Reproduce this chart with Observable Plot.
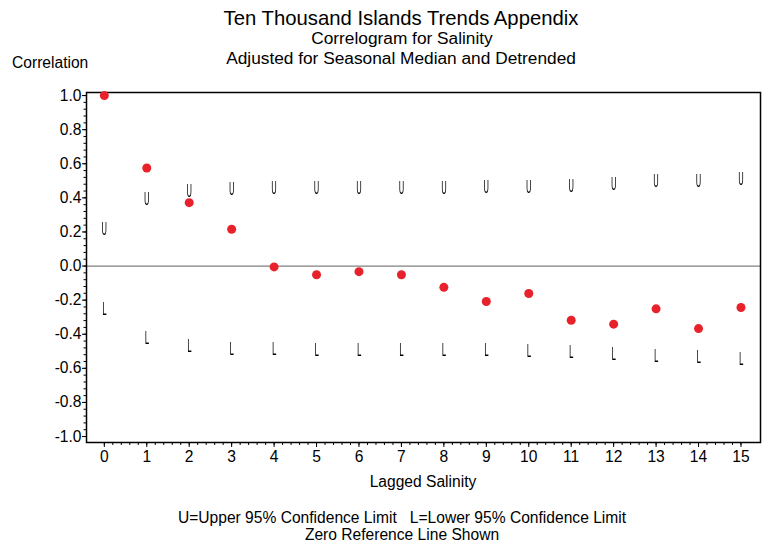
<!DOCTYPE html>
<html>
<head>
<meta charset="utf-8">
<script src="https://cdn.jsdelivr.net/npm/d3@7"></script>
<script src="https://cdn.jsdelivr.net/npm/@observablehq/plot@0.6"></script>
<style>
  body { margin: 0; background: #fff; font-family: "Liberation Sans", Arial, sans-serif; }
  #wrap { position: relative; width: 769px; height: 546px; }
  .t { position: absolute; color: #000; white-space: nowrap; line-height: 1; }
  .c { transform: translateX(-50%); }
</style>
</head>
<body>
<div id="wrap">
  <div class="t c" style="left:401px; top:8px; font-size:20.3px;">Ten Thousand Islands Trends Appendix</div>
  <div class="t c" style="left:402px; top:30px; font-size:17.3px;">Correlogram for Salinity</div>
  <div class="t c" style="left:401px; top:50px; font-size:17.3px;">Adjusted for Seasonal Median and Detrended</div>
  <div class="t" style="left:12px; top:55px; font-size:15.6px;">Correlation</div>
  <div class="t c" style="left:423px; top:474px; font-size:15.6px;">Lagged Salinity</div>
  <div class="t c" style="left:402px; top:510px; font-size:15.6px;">U=Upper 95% Confidence Limit&nbsp;&nbsp;&nbsp;L=Lower 95% Confidence Limit</div>
  <div class="t c" style="left:402px; top:527px; font-size:15.6px;">Zero Reference Line Shown</div>
  <div id="chart"></div>
</div>
<script>
const lags = [0, 1, 2, 3, 4, 5, 6, 7, 8, 9, 10, 11, 12, 13, 14, 15];
const correlation = [1.0, 0.575, 0.372, 0.216, -0.005, -0.051, -0.033, -0.051, -0.125, -0.208, -0.161, -0.318, -0.341, -0.251, -0.367, -0.243];
const upper95 = [0.218, 0.39, 0.437, 0.451, 0.457, 0.457, 0.457, 0.457, 0.457, 0.463, 0.463, 0.47, 0.48, 0.496, 0.5, 0.512];
const lower95 = [-0.255, -0.426, -0.47, -0.488, -0.49, -0.494, -0.494, -0.494, -0.494, -0.494, -0.498, -0.504, -0.518, -0.527, -0.537, -0.547];
const yTicks = [-1.0, -0.8, -0.6, -0.4, -0.2, 0.0, 0.2, 0.4, 0.6, 0.8, 1.0];

const rows = lags.map((lag, i) => ({lag, r: correlation[i], u: upper95[i], l: lower95[i]}));
const yMinor = d3.range(-1.0, 1.0001, 0.04).map(v => +v.toFixed(2));
const xMinor = d3.range(0, 15.0001, 0.2).map(v => +v.toFixed(1));

// Tall, narrow confidence-limit glyphs (like the original's plotting symbols)
function narrowGlyphs(index, scales, values, dimensions, context, next) {
  const g = next(index, scales, values, dimensions, context);
  g.style.filter = "grayscale(1)";
  d3.select(g).selectAll("text").each(function () {
    const t = this.getAttribute("transform") || "";
    this.setAttribute("transform", t + " scale(0.5,1.2)");
  });
  return g;
}

const chart = Plot.plot({
  width: 769,
  height: 546,
  marginLeft: 86,
  marginRight: 9,
  marginTop: 92,
  marginBottom: 104,
  style: {fontFamily: "Liberation Sans, Arial, sans-serif", fontSize: "15.6px", color: "#000", background: "transparent"},
  x: {type: "linear", domain: [-0.42, 15.46], axis: null},
  y: {type: "linear", domain: [-1.035, 1.018], axis: null},
  marks: [
    Plot.ruleY([0], {stroke: "#808080", strokeWidth: 1.3}),
    Plot.frame({stroke: "#000", strokeWidth: 1.5}),
    Plot.axisY(yMinor, {tickSize: 2.5, tickFormat: () => "", stroke: "#000", strokeWidth: 1, anchor: "left", label: null}),
    Plot.axisY(yTicks, {tickSize: 4, tickPadding: 1, tickFormat: d => d.toFixed(1), anchor: "left", fontSize: 15.6, stroke: "#000", label: null}),
    Plot.axisX(xMinor, {tickSize: 3, tickFormat: () => "", anchor: "bottom", stroke: "#000", label: null}),
    Plot.axisX(lags, {tickSize: 5, tickPadding: 3, tickFormat: d => String(d), anchor: "bottom", fontSize: 15.6, stroke: "#000", label: null}),
    Plot.text(rows, {x: "lag", y: "u", text: () => "U", fontSize: 15, fill: "#000",
      fontFamily: "DejaVu Sans, sans-serif", render: narrowGlyphs}),
    Plot.text(rows, {x: "lag", y: "l", text: () => "L", fontSize: 15, fill: "#000",
      fontFamily: "DejaVu Sans, sans-serif", render: narrowGlyphs}),
    Plot.dot(rows, {x: "lag", y: "r", r: 4.5, fill: "#e8222a", stroke: "none"})
  ]
});
document.getElementById("chart").appendChild(chart);
</script>
</body>
</html>
